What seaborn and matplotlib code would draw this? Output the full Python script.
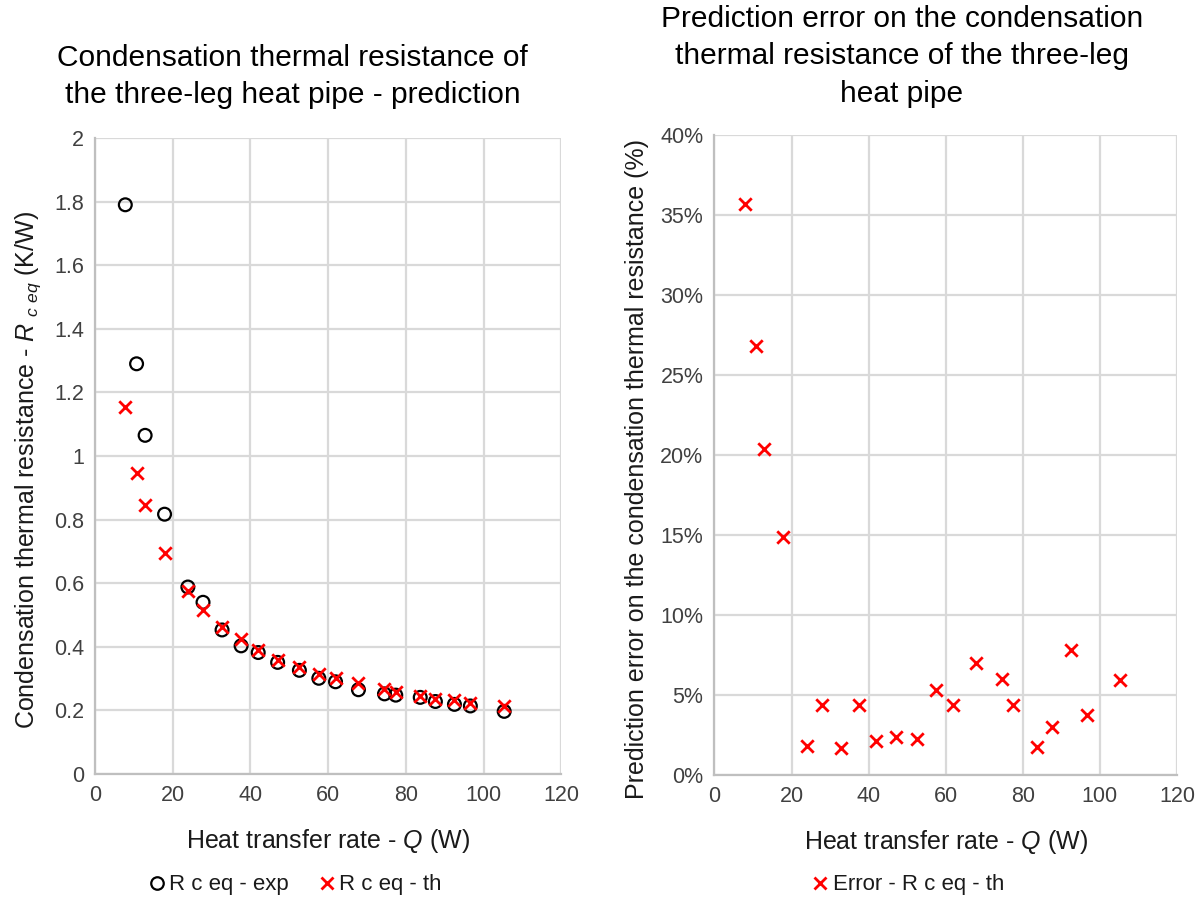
import matplotlib
matplotlib.use("Agg")
import matplotlib.pyplot as plt
import seaborn as sns
import pandas as pd
from matplotlib.ticker import MultipleLocator, FuncFormatter
from matplotlib.lines import Line2D

# ---- data ----
q_w = [7.8, 10.7, 12.9, 17.9, 23.9, 27.8, 32.7, 37.6, 42.0, 47.0, 52.6,
       57.6, 61.9, 67.8, 74.5, 77.4, 83.7, 87.6, 92.5, 96.6, 105.3]
r_exp = [1.79, 1.29, 1.065, 0.817, 0.588, 0.54, 0.453, 0.403, 0.382, 0.351, 0.326,
         0.301, 0.29, 0.265, 0.252, 0.248, 0.241, 0.228, 0.219, 0.214, 0.197]
r_th = [1.153, 0.946, 0.847, 0.695, 0.575, 0.517, 0.463, 0.424, 0.39, 0.36, 0.335,
        0.315, 0.302, 0.285, 0.267, 0.259, 0.246, 0.236, 0.232, 0.223, 0.214]
err_pct = [35.7, 26.8, 20.4, 14.9, 1.8, 4.4, 1.7, 4.4, 2.1, 2.4, 2.25,
           5.3, 4.35, 7.0, 6.0, 4.35, 1.75, 3.0, 7.8, 3.75, 5.95]

left_title = "Condensation thermal resistance of\nthe three-leg heat pipe - prediction"
right_title = "Prediction error on the condensation\nthermal resistance of the three-leg\nheat pipe"
left_ylabel = r"Condensation thermal resistance - $R$ $_{c\ eq}$ (K/W)"
right_ylabel = "Prediction error on the condensation thermal resistance (%)"
xlabel = r"Heat transfer rate - $Q$ (W)"
lbl_exp = "R c eq - exp"
lbl_th = "R c eq - th"
lbl_err = "Error - R c eq - th"

df = pd.DataFrame({"Q": q_w, "exp": r_exp, "th": r_th, "err": err_pct})

sns.set_theme(style="whitegrid")
plt.rcParams["font.family"] = ["Liberation Sans", "DejaVu Sans"]
plt.rcParams["mathtext.fontset"] = "custom"
plt.rcParams["mathtext.rm"] = "Liberation Sans"
plt.rcParams["mathtext.it"] = "Liberation Sans:italic"

TXT = "#000000"
LBL = "#1a1a1a"
TICK = "#404040"
GRID = "#d9d9d9"
SPINE = "#bfbfbf"

fig = plt.figure(figsize=(12.04, 9.02), dpi=100)
ax1 = fig.add_axes([0.0789, 0.1419, 0.3873, 0.7051])
ax2 = fig.add_axes([0.5934, 0.1408, 0.3842, 0.7095])

# left chart
sns.scatterplot(data=df, x="Q", y="exp", ax=ax1, marker="o", s=85,
                facecolor="none", edgecolor="black", linewidth=1.6, zorder=3)
sns.scatterplot(data=df, x="Q", y="th", ax=ax1, marker="x", s=80,
                color="#ff0000", linewidth=2.0, zorder=4)
ax1.set_xlim(0, 120)
ax1.set_ylim(0, 2)
ax1.xaxis.set_major_locator(MultipleLocator(20))
ax1.yaxis.set_major_locator(MultipleLocator(0.2))
ax1.yaxis.set_major_formatter(FuncFormatter(lambda v, p: f"{v:g}"))
ax1.set_ylabel(left_ylabel, fontsize=18, color=LBL, labelpad=8)

# right chart
sns.scatterplot(data=df, x="Q", y="err", ax=ax2, marker="x", s=80,
                color="#ff0000", linewidth=2.0, zorder=4)
ax2.set_xlim(0, 120)
ax2.set_ylim(0, 40)
ax2.xaxis.set_major_locator(MultipleLocator(20))
ax2.yaxis.set_major_locator(MultipleLocator(5))
ax2.yaxis.set_major_formatter(FuncFormatter(lambda v, p: f"{v:.0f}%"))
ax2.set_ylabel(right_ylabel, fontsize=18, color=LBL, labelpad=8)

for ax in (ax1, ax2):
    ax.set_xlabel(xlabel, fontsize=18, color=LBL, labelpad=15)
    ax.yaxis.label.set_y(0.478)
    ax.grid(True, color=GRID, linewidth=1.6)
    ax.set_axisbelow(True)
    for side in ("top", "right"):
        ax.spines[side].set_visible(False)
    for side in ("left", "bottom"):
        ax.spines[side].set_visible(True)
        ax.spines[side].set_color(SPINE)
        ax.spines[side].set_linewidth(1.6)
    ax.tick_params(axis="both", length=0, labelsize=15.5, labelcolor=TICK, pad=8)
    if ax.get_legend():
        ax.get_legend().remove()

# chart titles, centred over each chart area
fig.text(0.243, 0.9152, left_title, fontsize=21.5, color=TXT, ha="center", va="center",
         linespacing=1.43, multialignment="center")
fig.text(0.749, 0.9374, right_title, fontsize=21.5, color=TXT, ha="center", va="center",
         linespacing=1.43, multialignment="center")

h_exp = Line2D([], [], linestyle="none", marker="o", markersize=9, markerfacecolor="none",
               markeredgecolor="black", markeredgewidth=1.6)
h_th = Line2D([], [], linestyle="none", marker="x", markersize=9, color="#ff0000",
              markeredgewidth=2.0)
fig.legend([h_exp, h_th], [lbl_exp, lbl_th], loc="center", bbox_to_anchor=(0.244, 0.019),
           ncol=2, frameon=False, fontsize=16, handletextpad=0.05, columnspacing=1.2,
           handlelength=1.0, labelcolor=LBL)
h_err = Line2D([], [], linestyle="none", marker="x", markersize=9, color="#ff0000",
               markeredgewidth=2.0)
fig.legend([h_err], [lbl_err], loc="center", bbox_to_anchor=(0.753, 0.019),
           ncol=1, frameon=False, fontsize=16, handletextpad=0.05, handlelength=1.0,
           labelcolor=LBL)

fig.savefig("out.png", dpi=100)
